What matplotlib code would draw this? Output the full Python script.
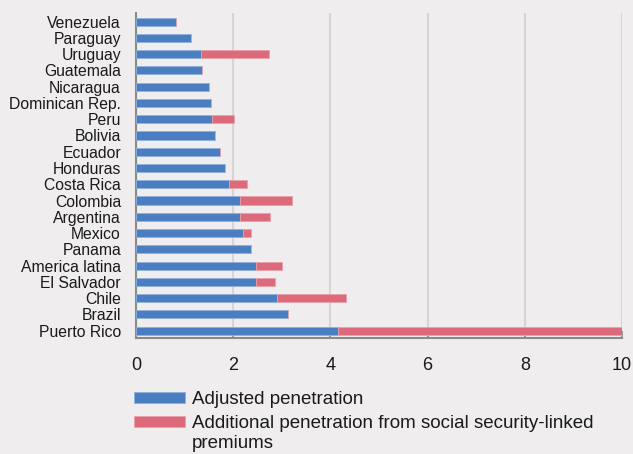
import numpy as np
import matplotlib
matplotlib.use('Agg')
import matplotlib.pyplot as plt

# Data (listed bottom to top)
countries = ['Puerto Rico', 'Brazil', 'Chile', 'El Salvador', 'America latina',
             'Panama', 'Mexico', 'Argentina', 'Colombia', 'Costa Rica',
             'Honduras', 'Ecuador', 'Bolivia', 'Peru', 'Dominican Rep.',
             'Nicaragua', 'Guatemala', 'Uruguay', 'Paraguay', 'Venezuela']
adjusted = [4.16, 3.13, 2.90, 2.47, 2.47,
            2.36, 2.21, 2.15, 2.15, 1.91,
            1.84, 1.72, 1.63, 1.57, 1.55,
            1.50, 1.36, 1.34, 1.13, 0.82]
additional = [5.84, 0.0, 1.43, 0.39, 0.53,
              0.0, 0.15, 0.61, 1.07, 0.38,
              0.0, 0.0, 0.0, 0.44, 0.0,
              0.0, 0.0, 1.39, 0.0, 0.0]
x_ticks = [0, 2, 4, 6, 8, 10]

blue = '#4a7ec0'
red = '#dc6a7b'
bg = '#efedee'
axis_grey = '#8a8a8a'
txt = '#1a1a1a'

plt.rcParams['font.family'] = ['Liberation Sans', 'DejaVu Sans']

fig = plt.figure(figsize=(6.33, 4.54), dpi=100, facecolor=bg)
ax = fig.add_axes([136/633, 1-338/454, (622-136)/633, (338-13)/454])
ax.set_facecolor(bg)

y = np.arange(len(countries))
ax.barh(y, adjusted, height=0.5, color=blue, edgecolor='#8fb0dd', linewidth=0.6,
        label='Adjusted penetration', zorder=3)
ax.barh(y, additional, left=adjusted, height=0.5, color=red, edgecolor='#eaa0aa',
        linewidth=0.6, label='Additional penetration from social security-linked',
        zorder=3)

ax.set_xlim(0, 10)
ax.set_ylim(-0.45, len(countries) - 0.47)
ax.set_xticks(x_ticks)
ax.set_yticks(y)
ax.set_yticklabels(countries)

# Grid and axes styling
ax.grid(axis='x', color='#d6d4d5', linewidth=1.5, zorder=0)
ax.set_axisbelow(True)
for s in ['top', 'right']:
    ax.spines[s].set_visible(False)
for s in ['left', 'bottom']:
    ax.spines[s].set_color(axis_grey)
    ax.spines[s].set_linewidth(1.5)
ax.tick_params(axis='x', direction='in', length=5, width=1.2, color=axis_grey,
               labelsize=13, pad=14, labelcolor=txt)
ax.tick_params(axis='y', direction='in', length=4, width=1.0, color=axis_grey,
               labelsize=11.3, pad=10.8, labelcolor=txt)

# Legend below the plot
leg = fig.legend(loc='upper left', bbox_to_anchor=(134/633, 1-391/454),
                 frameon=False, fontsize=13.5, borderpad=0, borderaxespad=0,
                 handlelength=2.72, handleheight=0.56, handletextpad=0.37,
                 labelspacing=0.37)
for t in leg.get_texts():
    t.set_color(txt)
fig.canvas.draw()
bb = leg.get_texts()[1].get_window_extent()
fig.text(bb.x0 / 633, (bb.y0 - 20) / 454, 'premiums', fontsize=13.5,
         va='bottom', ha='left', color=txt)

plt.savefig('out.png', dpi=100, facecolor=bg)
